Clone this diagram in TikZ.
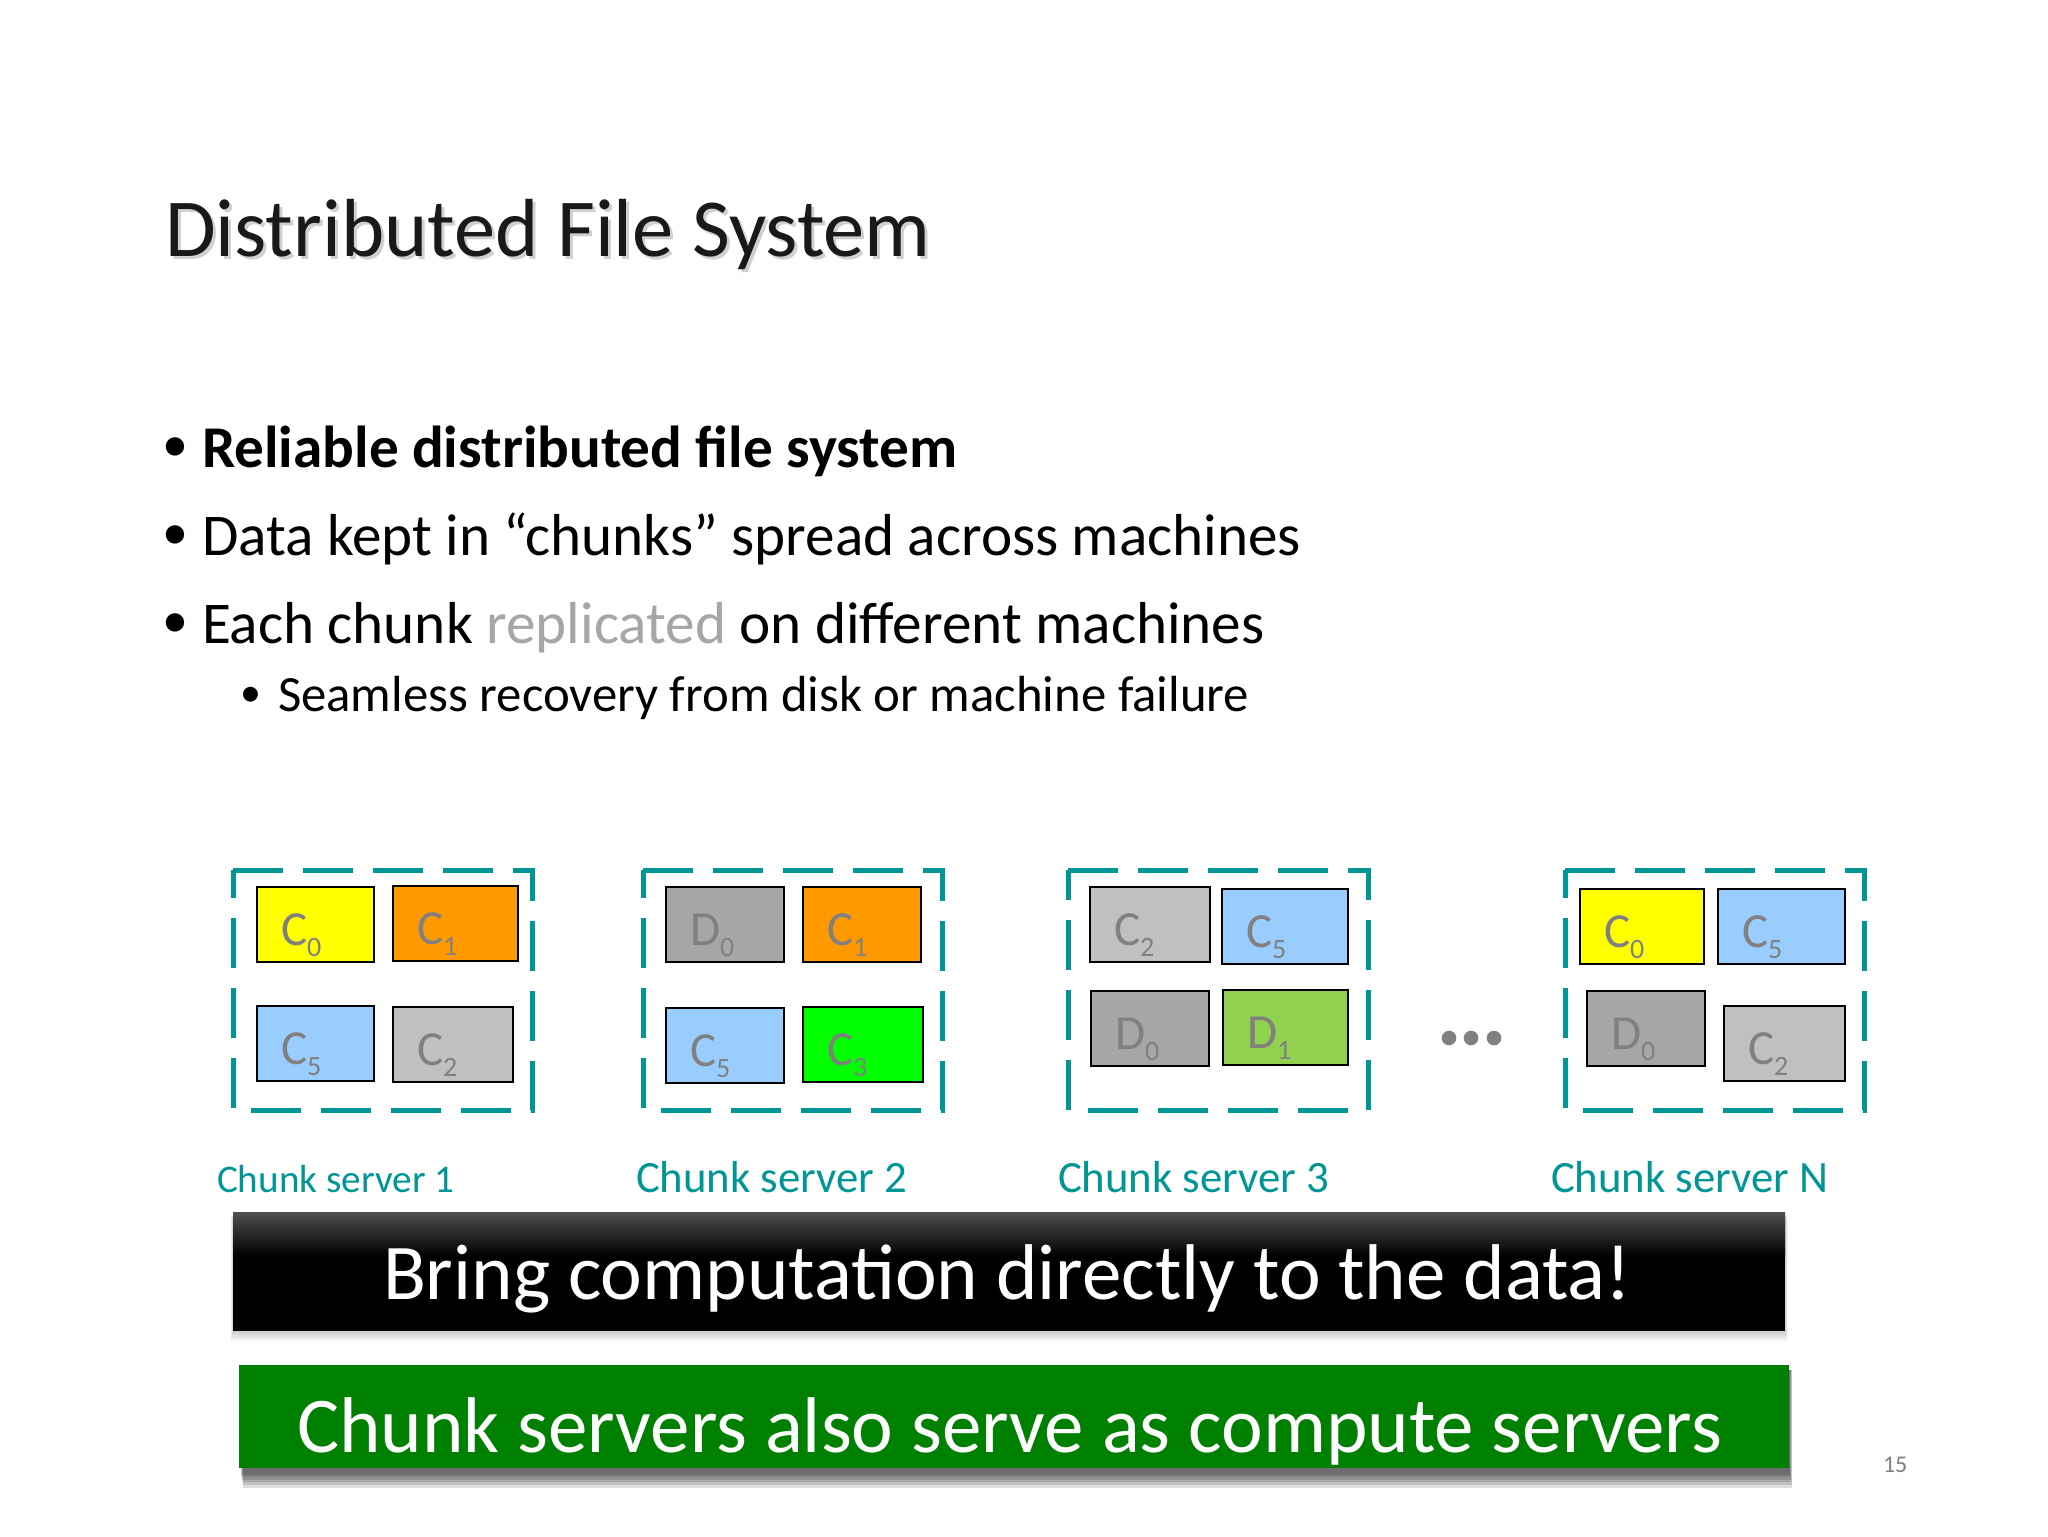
\documentclass[tikz,border=0pt]{standalone}
\usepackage{fontspec}
\setmainfont{Carlito}
\definecolor{srvteal}{RGB}{0,150,150}
\definecolor{cyel}{RGB}{255,255,0}
\definecolor{corg}{RGB}{255,153,0}
\definecolor{cblue}{RGB}{153,204,255}
\definecolor{clgray}{RGB}{192,192,192}
\definecolor{cdgray}{RGB}{166,166,166}
\definecolor{cgreen}{RGB}{0,255,0}
\definecolor{colive}{RGB}{146,208,80}
\definecolor{ctext}{RGB}{128,128,128}
\definecolor{bgreen}{RGB}{0,128,0}
\definecolor{repl}{RGB}{166,166,166}
\definecolor{bantop}{RGB}{80,80,80}
\newcommand{\mkchunk}[8]{%
  \node[chunkbox, fill=#6, minimum width={(#4-#2)*0.5pt}, minimum height={(#5-#3)*0.5pt}]
    (#1) at ({(#2+#4)/2},{(#3+#5)/2}) {};
  \node[chunklbl] (#1-t) at ({#2+24},{#3+58}) {#7\raisebox{-5.5pt}{\fontsize{14}{14}\selectfont #8}};
}
\begin{document}
\begin{tikzpicture}[x=0.5pt,y=-0.5pt,
  txt/.style={inner sep=0pt, outer sep=0pt, anchor=base west},
  chunkbox/.style={draw=black, line width=1pt, inner sep=0pt, outer sep=0pt},
  chunklbl/.style={txt, text=ctext, font=\fontsize{24.5}{24.5}\selectfont},
  srvframe/.style={draw=srvteal, line width=2.5pt, dash pattern=on 25pt off 10pt, line join=miter},
  srvlbl/.style={txt, text=srvteal, font=\fontsize{22.4}{22.4}\selectfont},
  bul/.style={txt, font=\fontsize{29.6}{29.6}\selectfont},
  bulmark/.style={txt, font=\fontsize{26}{26}\selectfont},
  subbul/.style={txt, font=\fontsize{25.4}{25.4}\selectfont},
  subbulmark/.style={txt, font=\fontsize{21}{21}\selectfont},
  dotmark/.style={circle, fill=ctext, inner sep=0pt, minimum size=7.3pt},
  bantxt/.style={txt, text=white, font=\fontsize{39.5}{39.5}\selectfont}
]
\useasboundingbox[fill=white] (0,0) rectangle (2048,1536);

% title
\node[txt, text=black!30, opacity=0.6, font=\fontsize{41.2}{41.2}\selectfont] (titleshadow) at (168,259) {Distributed File System};
\node[txt, text=black!90, font=\fontsize{41.2}{41.2}\selectfont] (title) at (165,256) {Distributed File System};

% bullets
\node[bulmark] (b1m) at (162,461) {•};
\node[bul] (b1) at (202,467) {\bfseries Reliable distributed file system};
\node[bulmark] (b2m) at (162,549) {•};
\node[bul] (b2) at (202,555) {Data kept in “chunks” spread across machines};
\node[bulmark] (b3m) at (162,637) {•};
\node[bul] (b3) at (202,643) {Each chunk \textcolor{repl}{replicated} on different machines};
\node[subbulmark] (b4m) at (240,706) {•};
\node[subbul] (b4) at (278,711) {Seamless recovery from disk or machine failure};

% server frames
\draw[srvframe] (233,870) -- (532,870) -- (532,1110) -- (233,1110) -- cycle;
\draw[srvframe] (643,870) -- (942,870) -- (942,1110) -- (643,1110) -- cycle;
\draw[srvframe] (1068,870) -- (1368,870) -- (1368,1110) -- (1068,1110) -- cycle;
\draw[srvframe] (1565,870) -- (1864,870) -- (1864,1110) -- (1565,1110) -- cycle;

% server 1
\mkchunk{s1a}{257}{887}{374}{962}{cyel}{C}{0}
\mkchunk{s1b}{393}{886}{518}{961}{corg}{C}{1}
\mkchunk{s1c}{257}{1006}{374}{1081}{cblue}{C}{5}
\mkchunk{s1d}{393}{1007}{513}{1082}{clgray}{C}{2}
% server 2
\mkchunk{s2a}{666}{887}{784}{962}{cdgray}{D}{0}
\mkchunk{s2b}{803}{887}{921}{962}{corg}{C}{1}
\mkchunk{s2c}{666}{1008}{784}{1083}{cblue}{C}{5}
\mkchunk{s2d}{803}{1007}{923}{1082}{cgreen}{C}{3}
% server 3
\mkchunk{s3a}{1090}{887}{1210}{962}{clgray}{C}{2}
\mkchunk{s3b}{1222}{889}{1348}{964}{cblue}{C}{5}
\mkchunk{s3c}{1091}{991}{1209}{1066}{cdgray}{D}{0}
\mkchunk{s3d}{1223}{990}{1348}{1065}{colive}{D}{1}
% server N
\mkchunk{sna}{1580}{889}{1704}{964}{cyel}{C}{0}
\mkchunk{snb}{1718}{889}{1845}{964}{cblue}{C}{5}
\mkchunk{snc}{1587}{991}{1705}{1066}{cdgray}{D}{0}
\mkchunk{snd}{1724}{1006}{1845}{1081}{clgray}{C}{2}

% ellipsis
\node[dotmark] (dot1) at (1449,1038) {};
\node[dotmark] (dot2) at (1471,1038) {};
\node[dotmark] (dot3) at (1494,1038) {};

% server labels
\node[srvlbl, font=\fontsize{19.6}{19.6}\selectfont] (lbl1) at (217,1192) {Chunk server 1};
\node[srvlbl] (lbl2) at (636,1192) {Chunk server 2};
\node[srvlbl] (lbl3) at (1058,1192) {Chunk server 3};
\node[srvlbl] (lblN) at (1551,1192) {Chunk server N};

% black banner with soft shadow
\foreach \i in {1,...,5} {
  \fill[black, opacity=0.04] ({233-\i*0.4},{1214+\i*0.5}) rectangle ({1785+\i*0.6},{1331+\i*2.0});
}
\fill[black] (233,1212) rectangle (1785,1331);
\shade[top color=bantop, bottom color=black] (233,1212) rectangle (1785,1256);
\node[bantxt] (ban1) at (383,1299) {Bring computation directly to the data!};

% green banner with shadow
\foreach \i in {1,...,6} {
  \fill[black, opacity=0.13] ({240+\i*0.5},{1370}) rectangle ({1789+\i*0.5},{1472+\i*2.6});
}
\fill[bgreen] (239,1365) rectangle (1789,1468);
\node[bantxt] (ban2) at (297,1452) {Chunk servers also serve as compute servers};

% page number
\node[txt, text=ctext, font=\fontsize{12}{12}\selectfont] (pg) at (1883,1472) {15};
\end{tikzpicture}
\end{document}
